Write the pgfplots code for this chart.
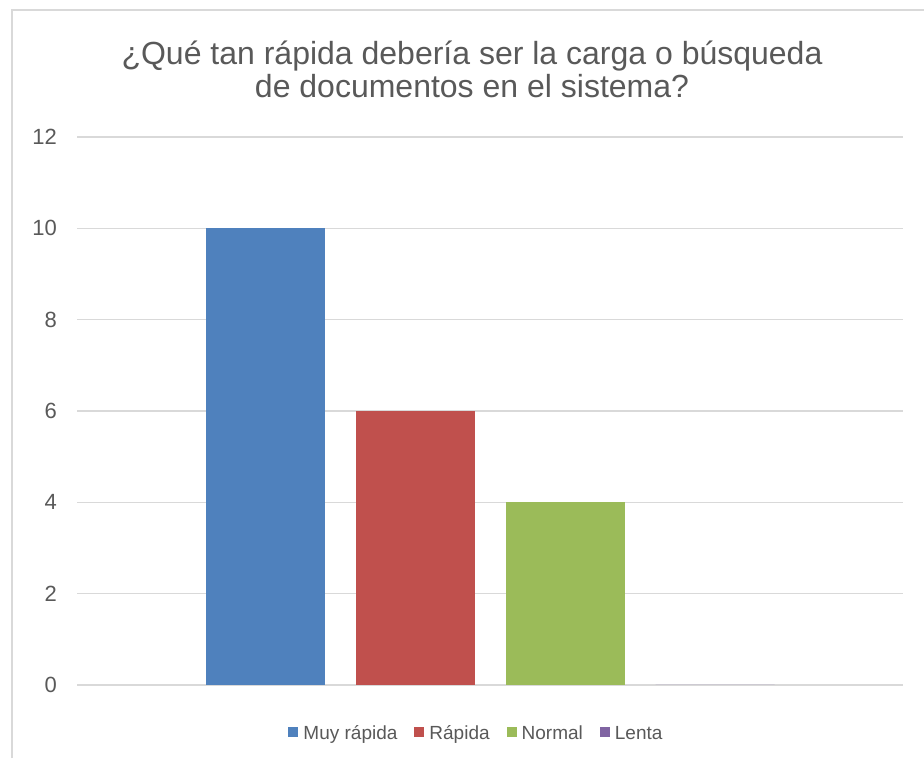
\documentclass[border=0pt]{standalone}
\usepackage{fontspec}
\setmainfont{Liberation Sans}
\usepackage{pgfplots}
\pgfplotsset{compat=1.18}
\definecolor{cblue}{HTML}{4F81BD}
\definecolor{cred}{HTML}{C0504D}
\definecolor{cgreen}{HTML}{9BBB59}
\definecolor{cpurple}{HTML}{8064A2}
\definecolor{textgray}{HTML}{595959}
\definecolor{gridgray}{HTML}{D9D9D9}
\pgfplotsset{
  sqbar/.style={fill=#1, draw=none,
    legend image code/.code={\fill[#1] (0pt,-5pt) rectangle (10pt,5pt);}},
}
\begin{document}
\begin{tikzpicture}[x=1pt,y=1pt]
\path[use as bounding box] (0,0) rectangle (924,758);
\draw[gridgray, line width=1.5pt] (12,0) -- (12,748) -- (924,748);
\node[text=textgray, align=center, font=\fontsize{32}{33}\selectfont, anchor=base]
  at (472,660) {¿Qué tan rápida debería ser la carga o búsqueda\\de documentos en el sistema?};
\begin{axis}[
  at={(77pt,73pt)}, anchor=south west,
  scale only axis, width=826pt, height=548pt,
  xmin=-1, xmax=1, ymin=0, ymax=12,
  ytick={0,2,...,12}, xtick=\empty,
  ybar=31pt, bar width=119pt,
  axis line style={draw=none},
  major tick style={draw=none},
  ymajorgrids, grid style={gridgray, line width=1.5pt},
  /pgf/number format/assume math mode=true,
  yticklabel style={font=\fontsize{22}{26}\selectfont, text=textgray, anchor=east, inner sep=0pt, xshift=-20pt},
  legend columns=4,
  legend style={at={(axis description cs:0.483,-0.0858)}, anchor=center, draw=none,
    font=\fontsize{19}{22}\selectfont, text=textgray, inner sep=0pt,
    nodes={inner sep=1pt, text height=17pt, text depth=3pt, anchor=center},
    /tikz/every odd column/.append style={column sep=4pt},
    /tikz/every even column/.append style={column sep=16pt}},
]
\addplot[sqbar=cblue] coordinates {(0,10)};
\addplot[sqbar=cred] coordinates {(0,6)};
\addplot[sqbar=cgreen] coordinates {(0,4)};
\addplot[sqbar=cpurple] coordinates {(0,0)};
\legend{Muy rápida, Rápida, Normal, Lenta}
\end{axis}
\end{tikzpicture}
\end{document}
